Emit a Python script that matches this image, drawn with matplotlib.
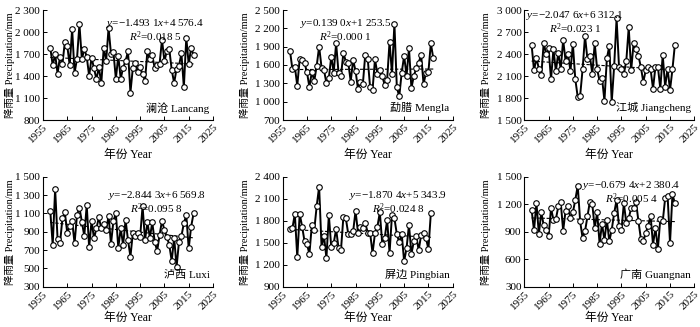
import numpy as np
import matplotlib
matplotlib.use("Agg")
import matplotlib.pyplot as plt
from matplotlib.ticker import FuncFormatter

plt.rcParams['font.family'] = ['Liberation Serif', 'Noto Sans CJK SC']
plt.rcParams['mathtext.fontset'] = 'custom'
plt.rcParams['mathtext.rm'] = 'Liberation Serif'
plt.rcParams['mathtext.it'] = 'Liberation Serif:italic'

# annual precipitation (mm), starting 1958
lancang = [1786, 1545, 1695, 1432, 1664, 1559, 1868, 1809, 1545, 2041,
           1441, 1636, 2105, 1627, 1768, 1664, 1400, 1650, 1505, 1355,
           1518, 1300, 1777, 1605, 2055, 1700, 1723, 1364, 1673, 1364,
           1514, 1605, 1736, 1173, 1514, 1577, 1459, 1518, 1427, 1336,
           1745, 1627, 1682, 1505, 1550, 1564, 1895, 1600, 1745, 1768,
           1482, 1305, 1500, 1541, 1709, 1245, 1923, 1559, 1786, 1682]
mengla = [1831, 1532, 1575, 1260, 1700, 1679, 1630, 1480, 1238, 1490,
          1340, 1586, 1902, 1559, 1520, 1303, 1385, 1738, 1477, 1956,
          1466, 1423, 1804, 1651, 1640, 1330, 1679, 1504, 1205, 1314,
          1287, 1771, 1706, 1232, 1194, 1695, 1455, 1520, 1412, 1276,
          1358, 1983, 1455, 2277, 1232, 1086, 1477, 1749, 1423, 1874,
          1221, 1423, 1548, 1640, 1766, 1287, 1477, 1488, 1956, 1711]
jiangcheng = [2527, 2177, 2341, 2200, 2109, 2555, 2395, 2477, 2055, 2464,
              2168, 2418, 2191, 2591, 2305, 2405, 2168, 2536, 2055, 1814,
              1832, 2191, 2645, 2327, 2373, 2132, 2545, 2191, 2032, 2077,
              1759, 2341, 2509, 1745, 2236, 2886, 2227, 2200, 2132, 2305,
              2764, 2177, 2545, 2464, 2373, 2223, 2018, 2177, 2223, 2191,
              1927, 2223, 2227, 1927, 2386, 1955, 2200, 1909, 2191, 2527]
luxi = [1125, 755, 1365, 820, 773, 1045, 1111, 882, 965, 1016,
        773, 1082, 1162, 1009, 853, 1191, 729, 1016, 827, 936,
        1056, 936, 980, 918, 1071, 765, 1020, 1100, 725, 936,
        755, 1027, 809, 627, 889, 853, 882, 845, 1180, 809,
        1002, 835, 1002, 791, 689, 864, 1020, 918, 845, 755,
        580, 835, 515, 791, 853, 991, 1082, 718, 955, 1100]
pingbian = [1684, 1698, 1893, 1299, 1893, 1720, 1517, 1480, 1345, 1743,
            1675, 2001, 2264, 1440, 1594, 1290, 1879, 1435, 1494, 1684,
            1426, 1403, 1856, 1834, 1616, 1621, 1653, 1933, 1639, 1720,
            1698, 1766, 1639, 1630, 1358, 1630, 1720, 1915, 1480, 1562,
            1811, 1358, 1879, 1834, 1616, 1503, 1621, 1245, 1426, 1743,
            1349, 1517, 1594, 1394, 1607, 1639, 1562, 1412, 1902]
guangnan = [1139, 915, 1211, 875, 1110, 969, 922, 849, 1157, 1030,
            1037, 1175, 1222, 911, 1131, 1175, 1048, 1110, 1247, 1402,
            1012, 831, 904, 1066, 1229, 1200, 940, 1110, 770, 987,
            806, 1030, 795, 922, 1102, 1247, 958, 915, 1211, 994,
            1048, 1157, 1157, 1229, 1012, 824, 795, 886, 965, 1074,
            759, 940, 712, 1037, 1012, 1265, 1290, 777, 1308, 1211]

stations = ["澜沧 Lancang", "勐腊 Mengla", "江城 Jiangcheng",
            "泸西 Luxi", "屏边 Pingbian", "广南 Guangnan"]
series = [lancang, mengla, jiangcheng, luxi, pingbian, guangnan]
slopes = [-1.4931, 0.1390, -2.0476, -2.8443, -1.8704, -0.6794]
intercepts = [4576.4, 1253.5, 6312.1, 6569.8, 5343.9, 2380.4]
eq_texts = ["−1.493 1", "0.139 0", "−2.047 6", "−2.844 3", "−1.870 4", "−0.679 4"]
int_texts = ["4 576.4", "1 253.5", "6 312.1", "6 569.8", "5 343.9", "2 380.4"]
r2_texts = ["0.018 5", "0.000 1", "0.023 1", "0.095 8", "0.024 8", "0.005 4"]
ylims = [(800, 2300), (700, 2500), (1500, 3000), (300, 1500), (900, 2400), (300, 1500)]
ysteps = [300, 300, 300, 200, 300, 300]
xticks = [1955, 1965, 1975, 1985, 1995, 2005, 2015, 2025]
# equation position (axes fraction, centre)
eq_pos = [(0.66, 0.88), (0.37, 0.88), (0.3, 0.95), (0.67, 0.83), (0.68, 0.83), (0.63, 0.92)]


def thousands(v, pos):
    s = "{:,.0f}".format(v)
    return s.replace(",", " ")


fig = plt.figure(figsize=(7, 3.27), dpi=100)
W, H = 700, 327
lefts = [43, 282.7, 524.3]
tops = [10, 176.7]
aw, ah = 170, 110
ylab_x = [-0.165, -0.19, -0.196]
xlab_y = [-0.32, -0.28]

for i in range(6):
    r, c = divmod(i, 3)
    ax = fig.add_axes([lefts[c] / W, 1 - (tops[r] + ah) / H, aw / W, ah / H])
    vals = series[i]
    years = np.arange(1958, 1958 + len(vals))
    ax.plot(years, vals, color='black', lw=1.4, marker='o', ms=4,
            mfc='white', mec='black', mew=0.8, zorder=3)
    trend = slopes[i] * years + intercepts[i]
    ax.plot(years, trend, color='black', ls='--', lw=0.8, dashes=(3, 1.5), zorder=2)

    lo, hi = ylims[i]
    ax.set_xlim(1955, 2025)
    ax.set_ylim(lo, hi)
    ax.set_xticks(xticks)
    ax.set_yticks(np.arange(lo, hi + 1, ysteps[i]))
    ax.yaxis.set_major_formatter(FuncFormatter(thousands))
    ax.tick_params(direction='in', length=3, width=0.7, labelsize=8, pad=2)
    for lab in ax.get_xticklabels():
        lab.set_rotation(45)
        lab.set_ha('right')
        lab.set_rotation_mode('anchor')
    ax.spines['top'].set_visible(False)
    ax.spines['right'].set_visible(False)
    ax.spines['left'].set_linewidth(0.8)
    ax.spines['bottom'].set_linewidth(0.8)

    ax.set_xlabel("年份 Year", fontsize=8.5, va='center')
    ax.xaxis.set_label_coords(0.5, xlab_y[r])
    ax.set_ylabel("降雨量 Precipitation/mm", fontsize=7.5)
    ax.yaxis.set_label_coords(ylab_x[c], 0.5)

    ex, ey = eq_pos[i]
    ax.text(ex, ey, "$y$=" + eq_texts[i] + "$x$+" + int_texts[i],
            transform=ax.transAxes, ha='center', va='center', fontsize=8)
    ax.text(ex, ey - 0.12, "$R^2$=" + r2_texts[i],
            transform=ax.transAxes, ha='center', va='center', fontsize=8)
    ax.text(0.98, 0.11, stations[i], transform=ax.transAxes,
            ha='right', va='center', fontsize=8)

fig.savefig("out.png", dpi=100)
